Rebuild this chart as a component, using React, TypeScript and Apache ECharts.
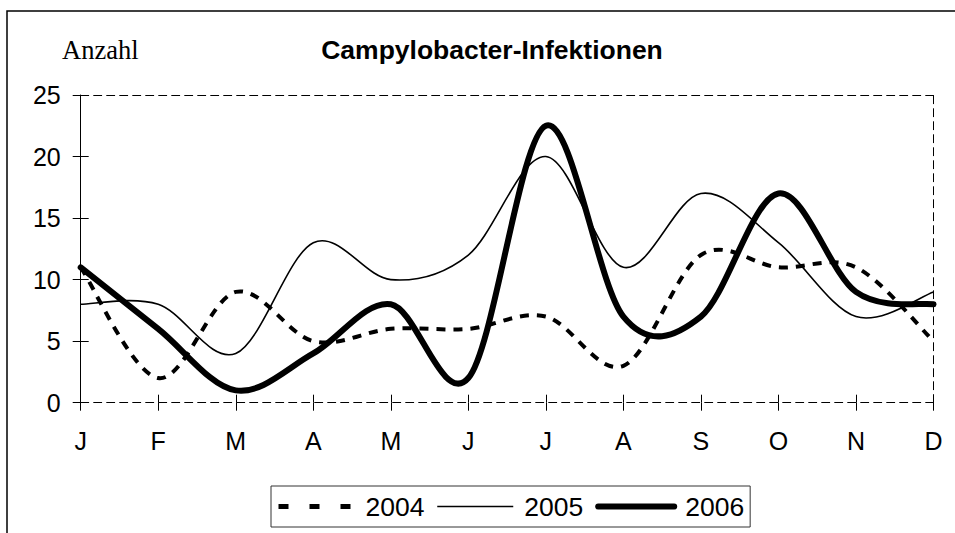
import React, { useEffect, useRef } from "react";
import * as echarts from "echarts";

const months = ["J", "F", "M", "A", "M", "J", "J", "A", "S", "O", "N", "D"];
const yTicks = [0, 5, 10, 15, 20, 25];
const s2004 = [11, 2, 9, 5, 6, 6, 7, 3, 12, 11, 11, 5];
const s2005 = [8, 8, 4, 13, 10, 12, 20, 11, 17, 13, 7, 9];
const s2006 = [11, 6, 1, 4, 8, 2, 22.5, 7, 7, 17, 9, 8];
const seriesNames = ["2004", "2005", "2006"];

const SANS = "'Liberation Sans', Arial, sans-serif";
const SERIF = "'Liberation Serif', 'Times New Roman', serif";

type Style = { lineWidth: number; lineDash?: number[]; lineCap?: string };

// Smooth curve (Catmull-Rom style Bezier, like a spreadsheet's smoothed line)
function makeRenderItem(values: number[], st: Style) {
  return (params: any, api: any) => {
    if (params.dataIndex !== 0) return null;
    const pts = values.map((v, i) => api.coord([i, v]));
    let d = `M${pts[0][0]},${pts[0][1]}`;
    for (let i = 0; i < pts.length - 1; i++) {
      const p0 = pts[i - 1] || pts[i];
      const p1 = pts[i];
      const p2 = pts[i + 1];
      const p3 = pts[i + 2] || pts[i + 1];
      const c1x = p1[0] + (p2[0] - p0[0]) / 6;
      const c1y = p1[1] + (p2[1] - p0[1]) / 6;
      const c2x = p2[0] - (p3[0] - p1[0]) / 6;
      const c2y = p2[1] - (p3[1] - p1[1]) / 6;
      d += ` C${c1x},${c1y} ${c2x},${c2y} ${p2[0]},${p2[1]}`;
    }
    return {
      type: "path",
      shape: { pathData: d },
      style: {
        fill: "none",
        stroke: "#000",
        lineWidth: st.lineWidth,
        lineDash: st.lineDash,
        lineCap: st.lineCap || "butt",
        lineJoin: "round",
      },
    };
  };
}

export default function App() {
  const ref = useRef<HTMLDivElement>(null);
  useEffect(() => {
    if (!ref.current) return;
    const chart = echarts.init(ref.current, null, { renderer: "svg" });
    const yMin = yTicks[0];
    const yMax = yTicks[yTicks.length - 1];
    const yInt = yTicks[1] - yTicks[0];
    const all = [s2004, s2005, s2006];
    const styles: Style[] = [
      { lineWidth: 4, lineDash: [9, 8] },
      { lineWidth: 1.6 },
      { lineWidth: 6, lineCap: "round" },
    ];
    const legendSeries = seriesNames.map((name) => ({
      name,
      type: "line",
      data: [],
      symbol: "none",
      itemStyle: { color: "#000" },
      lineStyle: { color: "#000" },
    }));
    const curveSeries = seriesNames.map((name, k) => ({
      name,
      type: "custom",
      data: all[k].map((v, i) => [i, v]),
      encode: { x: 0, y: 1 },
      renderItem: makeRenderItem(all[k], styles[k]),
      itemStyle: { color: "#000" },
      z: 2 + k,
      silent: true,
    }));
    chart.setOption({
      animation: false,
      backgroundColor: "#fff",
      title: {
        text: "Campylobacter-Infektionen",
        left: 487,
        top: 31,
        textAlign: "center",
        textStyle: { fontFamily: SANS, fontSize: 26.5, fontWeight: "bold", color: "#000" },
      },
      graphic: [
        {
          type: "rect",
          shape: { x: 7, y: 11, width: 1000, height: 600 },
          style: { fill: "none", stroke: "#000", lineWidth: 1.5 },
          silent: true,
        },
        {
          type: "text",
          x: 62,
          y: 50,
          style: {
            text: "Anzahl",
            fontFamily: SERIF,
            fontSize: 26.5,
            fill: "#000",
            textVerticalAlign: "middle",
          },
        },
      ],
      legend: {
        left: 271,
        top: 486,
        orient: "horizontal",
        itemWidth: 76,
        itemHeight: 14,
        itemGap: 12,
        padding: [7, 6, 7, 5],
        borderColor: "#333",
        borderWidth: 1,
        textStyle: { fontFamily: SANS, fontSize: 26.5, color: "#000", padding: [0, 0, 0, 6] },
        data: [
          {
            name: seriesNames[0],
            lineStyle: { type: [10, 21], width: 5, color: "#000" },
            itemStyle: { opacity: 0 },
          },
          {
            name: seriesNames[1],
            lineStyle: { type: "solid", width: 1.6, color: "#000" },
            itemStyle: { opacity: 0 },
          },
          {
            name: seriesNames[2],
            lineStyle: { type: "solid", width: 6, color: "#000", cap: "round" },
            itemStyle: { opacity: 0 },
          },
        ],
      },
      grid: { left: 80.7, right: 21.5, top: 95, bottom: 130.3, containLabel: false },
      xAxis: [
        {
          type: "category",
          data: months,
          boundaryGap: false,
          position: "bottom",
          axisLine: { show: true, onZero: false, lineStyle: { color: "#000", width: 1, type: [8, 5] } },
          axisTick: { show: true, inside: false, length: 8, lineStyle: { color: "#000" } },
          axisLabel: { fontFamily: SANS, fontSize: 25, color: "#000", margin: 26 },
          splitLine: { show: false },
        },
        {
          type: "category",
          data: months,
          boundaryGap: false,
          position: "bottom",
          axisLine: { show: false, onZero: false },
          axisTick: { show: true, inside: true, length: 8, lineStyle: { color: "#000" } },
          axisLabel: { show: false },
          splitLine: { show: false },
        },
        {
          type: "category",
          data: months,
          boundaryGap: false,
          position: "top",
          axisLine: { show: true, onZero: false, lineStyle: { color: "#000", width: 1, type: [8, 5] } },
          axisTick: { show: false },
          axisLabel: { show: false },
          splitLine: { show: false },
        },
      ],
      yAxis: [
        {
          type: "value",
          min: yMin,
          max: yMax,
          interval: yInt,
          position: "left",
          axisLine: { show: true, onZero: false, lineStyle: { color: "#000", width: 1 } },
          axisTick: { show: true, inside: false, length: 8, lineStyle: { color: "#000" } },
          axisLabel: { fontFamily: SANS, fontSize: 25, color: "#000", margin: 20 },
          splitLine: { show: false },
        },
        {
          type: "value",
          min: yMin,
          max: yMax,
          interval: yInt,
          position: "left",
          axisLine: { show: false, onZero: false },
          axisTick: { show: true, inside: true, length: 8, lineStyle: { color: "#000" } },
          axisLabel: { show: false },
          splitLine: { show: false },
        },
        {
          type: "value",
          min: yMin,
          max: yMax,
          interval: yInt,
          position: "right",
          axisLine: { show: true, onZero: false, lineStyle: { color: "#000", width: 1, type: [8, 5] } },
          axisTick: { show: false },
          axisLabel: { show: false },
          splitLine: { show: false },
        },
      ],
      series: [...legendSeries, ...curveSeries],
    });
    return () => chart.dispose();
  }, []);
  return (
    <div
      ref={ref}
      style={{ position: "fixed", left: 0, top: 0, width: 955, height: 533, background: "#fff" }}
    />
  );
}
